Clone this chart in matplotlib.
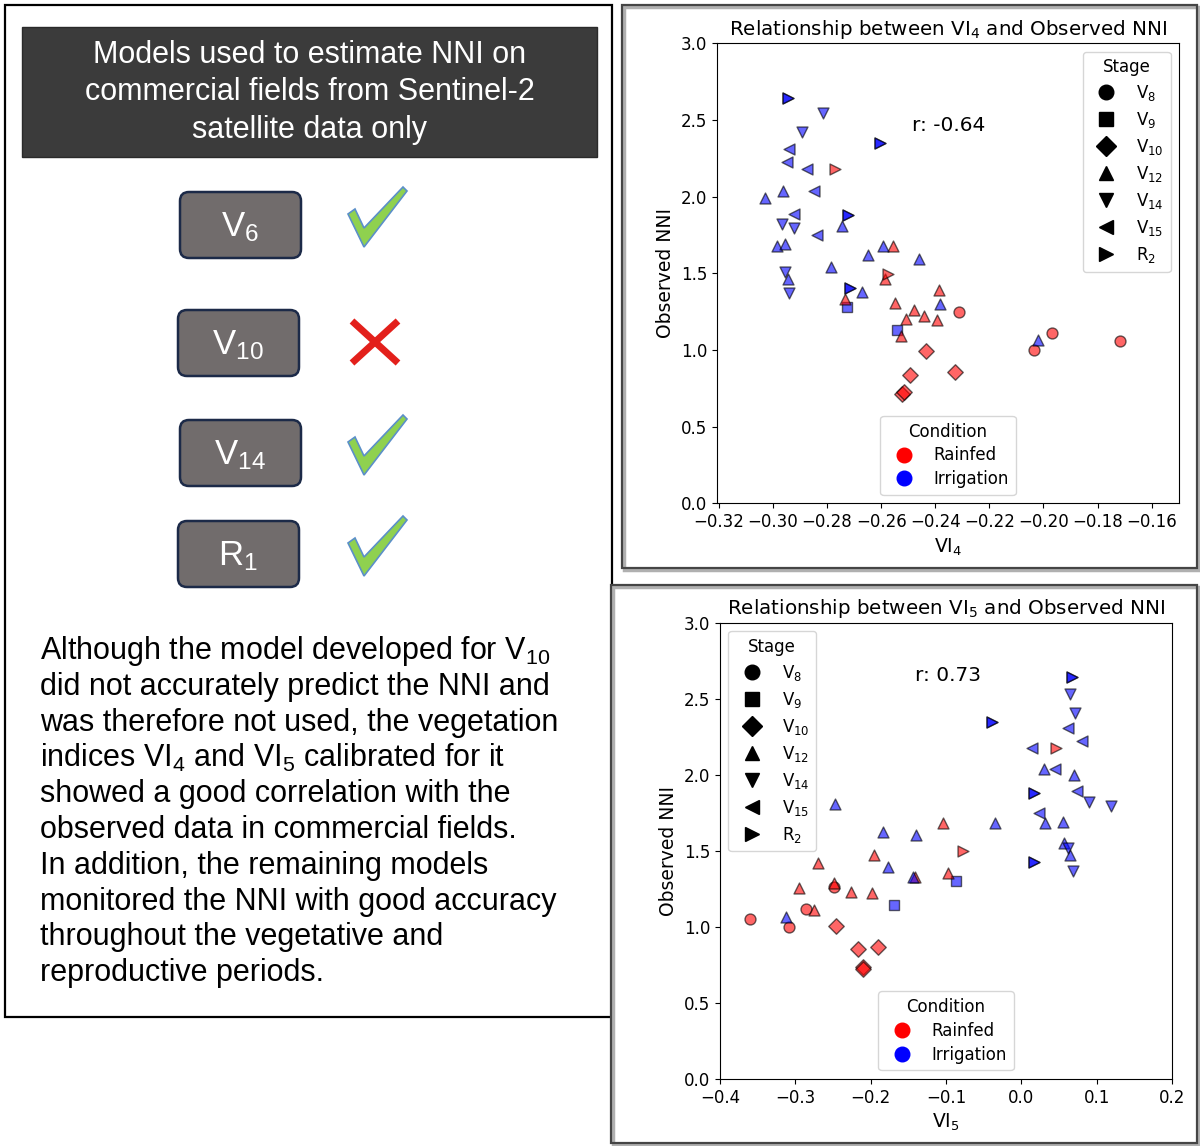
import matplotlib
matplotlib.use("Agg")
import matplotlib.pyplot as plt
from matplotlib.patches import Rectangle, FancyBboxPatch, Polygon
from matplotlib.lines import Line2D

plt.rcParams['mathtext.default'] = 'regular'
plt.rcParams['font.family'] = ['DejaVu Sans']

# ---------------- data ----------------
stage_names = ['V8', 'V9', 'V10', 'V12', 'V14', 'V15', 'R2']
stage_labels = ['V$_8$', 'V$_9$', 'V$_{10}$', 'V$_{12}$', 'V$_{14}$', 'V$_{15}$', 'R$_2$']
stage_markers = ['o', 's', 'D', '^', 'v', '<', '>']
cond_names = ['Rainfed', 'Irrigation']
cond_colors = ['red', 'blue']

# VI4 panel
vi4_x = [-0.2943, -0.2943, -0.2605, -0.2605, -0.2724, -0.2724, -0.2716, -0.2716,
         -0.2814, -0.2893, -0.2966, -0.2921, -0.2955, -0.2940,
         -0.2939, -0.2949, -0.2875, -0.2847, -0.2921, -0.2836,
         -0.2963, -0.3031, -0.2744, -0.2984, -0.2955, -0.2593, -0.2648, -0.2461,
         -0.2786, -0.2945, -0.2670, -0.2384, -0.2019,
         -0.2728, -0.2541,
         -0.2771, -0.2575,
         -0.2556, -0.2587, -0.2732, -0.2388, -0.2550, -0.2480, -0.2443, -0.2507,
         -0.2393, -0.2528,
         -0.2313, -0.1969, -0.2035, -0.1718,
         -0.2433, -0.2492, -0.2327, -0.2523, -0.2514]
vi4_nni = [2.642, 2.642, 2.348, 2.348, 1.880, 1.880, 1.405, 1.405,
           2.544, 2.420, 1.822, 1.798, 1.510, 1.370,
           2.309, 2.224, 2.178, 2.037, 1.887, 1.748,
           2.037, 1.993, 1.811, 1.680, 1.689, 1.680, 1.619, 1.593,
           1.543, 1.460, 1.377, 1.300, 1.066,
           1.278, 1.128,
           2.178, 1.493,
           1.680, 1.463, 1.333, 1.393, 1.305, 1.261, 1.224, 1.202,
           1.195, 1.089,
           1.246, 1.109, 1.001, 1.058,
           0.996, 0.835, 0.855, 0.714, 0.727]
vi4_stage = (['R2'] * 8 + ['V14'] * 6 + ['V15'] * 6 + ['V12'] * 13 + ['V9'] * 2 +
             ['R2'] * 2 + ['V12'] * 10 + ['V8'] * 4 + ['V10'] * 5)
vi4_cond = ['Irrigation'] * 35 + ['Rainfed'] * 21

# VI5 panel
vi5_x = [0.0673, 0.0673, -0.0392, -0.0392, 0.0174, 0.0174, 0.0174, 0.0174,
         0.0650, 0.0717, 0.0900, 0.1193, 0.0620, 0.0682,
         0.0620, 0.0806, 0.0142, 0.0452, 0.0737, 0.0240,
         -0.2473, -0.1840, -0.1397, -0.1774, -0.1441, -0.3124, 0.0296, 0.0695,
         0.0316, 0.0551, -0.0348, 0.0570, 0.0650,
         -0.0870, -0.1696,
         0.0465, -0.0769,
         -0.1043, -0.1950, -0.2703, -0.1411, -0.0968, -0.2951, -0.2482, -0.2260,
         -0.1977, -0.2758,
         -0.2482, -0.2855, -0.3602, -0.3084,
         -0.2464, -0.2172, -0.1898, -0.2107, -0.2103]
vi5_nni = [2.640, 2.640, 2.345, 2.345, 1.880, 1.880, 1.425, 1.425,
           2.530, 2.405, 1.818, 1.797, 1.515, 1.365,
           2.308, 2.220, 2.175, 2.038, 1.890, 1.750,
           1.810, 1.620, 1.600, 1.395, 1.325, 1.065, 2.038, 1.995,
           1.682, 1.690, 1.682, 1.550, 1.475,
           1.298, 1.143,
           2.175, 1.500,
           1.683, 1.472, 1.422, 1.330, 1.356, 1.253, 1.290, 1.230,
           1.222, 1.108,
           1.263, 1.118, 1.053, 0.998,
           1.006, 0.852, 0.870, 0.732, 0.724]
vi5_stage = vi4_stage
vi5_cond = vi4_cond

# left panel text
header_lines = ["Models used to estimate NNI on",
                "commercial fields from Sentinel-2",
                "satellite data only"]
model_labels = ['V$_6$', 'V$_{10}$', 'V$_{14}$', 'R$_1$']
model_ok = [True, False, True, True]
body_lines = ["Although the model developed for V$_{10}$",
              "did not accurately predict the NNI and",
              "was therefore not used, the vegetation",
              "indices VI$_4$ and VI$_5$ calibrated for it",
              "showed a good correlation with the",
              "observed data in commercial fields.",
              "In addition, the remaining models",
              "monitored the NNI with good accuracy",
              "throughout the vegetative and",
              "reproductive periods."]

# ---------------- figure ----------------
W, H = 1200, 1146
fig = plt.figure(figsize=(12, 11.46), dpi=100)
bg = fig.add_axes([0, 0, 1, 1])
bg.set_xlim(0, W)
bg.set_ylim(H, 0)
bg.axis('off')

LS = 'Liberation Sans'

# left outer frame
bg.add_patch(Rectangle((5, 5), 607, 1012, fill=False, ec='black', lw=1.6))
# header box
bg.add_patch(Rectangle((22, 27), 575, 130, fc='#3b3b3b', ec='#2a2a2a', lw=1))
for i, line in enumerate(header_lines):
    bg.text(310, 55 + i * 37.5, line, color='white', fontsize=22, family=LS,
            ha='center', va='center')

# model boxes
box_tops = [192, 310, 420, 521]
box_lefts = [180, 178, 180, 178]
for lab, top, left, ok in zip(model_labels, box_tops, box_lefts, model_ok):
    bg.add_patch(FancyBboxPatch((left, top), 121, 66,
                                boxstyle="round,pad=0,rounding_size=9",
                                fc='#716c6c', ec='#1c2a48', lw=1.8))
    bg.text(left + 60, top + 35, lab, color='white', fontsize=25, family=LS,
            ha='center', va='center')
    cy = top + 28
    if ok:
        pts = [(348, cy - 6), (355, cy - 11), (364, cy + 8), (403, cy - 33),
               (407, cy - 29), (364, cy + 27)]
        bg.add_patch(Polygon(pts, closed=True, fc='#8fd14f', ec='#5b8fc9', lw=1.2))
    else:
        cx, cyy = 375, 342
        for dx in (-1, 1):
            bg.plot([cx - 23, cx + 23], [cyy - 21 * dx, cyy + 21 * dx],
                    color='#e3201b', lw=5, solid_capstyle='butt')

for i, line in enumerate(body_lines):
    bg.text(40, 651 + i * 35.8, line, color='black', fontsize=22, family=LS,
            ha='left', va='center')

# right panel frames (screenshots)
for (x0, y0, w, h) in [(622, 5, 575, 563), (611, 585, 586, 558)]:
    bg.add_patch(Rectangle((x0 + 2, y0 + 2), w, h, fill=False, ec='#b0b0b0', lw=2.5))
    bg.add_patch(Rectangle((x0, y0), w, h, fill=False, ec='#454545', lw=1.6))


def scatter_panel(ax, xs, ys, stages, conds):
    for sname, m in zip(stage_names, stage_markers):
        for cname, col in zip(cond_names, cond_colors):
            px = [x for x, s, c in zip(xs, stages, conds) if s == sname and c == cname]
            py = [y for y, s, c in zip(ys, stages, conds) if s == sname and c == cname]
            if px:
                ax.scatter(px, py, marker=m, c=col, alpha=0.6, s=62,
                           edgecolors='black', linewidths=1.0, zorder=3)


def legends(ax, stage_loc, cond_loc):
    sh = [Line2D([], [], marker=m, color='black', linestyle='', markersize=10.5)
          for m in stage_markers]
    l1 = ax.legend(sh, stage_labels, title='Stage', loc=stage_loc, fontsize=12,
                   title_fontsize=12, labelspacing=0.42)
    ax.add_artist(l1)
    ch = [Line2D([], [], marker='o', color=c, linestyle='', markersize=10.5)
          for c in cond_colors]
    ax.legend(ch, cond_names, title='Condition', loc=cond_loc, fontsize=12,
              title_fontsize=12, labelspacing=0.35)


# top scatter (VI4)
ax1 = fig.add_axes([717 / W, 1 - 503.3 / H, 462 / W, 460 / H])
scatter_panel(ax1, vi4_x, vi4_nni, vi4_stage, vi4_cond)
ax1.set_xlim(-0.3207, -0.1499)
ax1.set_ylim(0, 3.0)
ax1.set_xticks([-0.32, -0.30, -0.28, -0.26, -0.24, -0.22, -0.20, -0.18, -0.16])
ax1.set_yticks([0, 0.5, 1.0, 1.5, 2.0, 2.5, 3.0])
ax1.tick_params(labelsize=12)
ax1.set_xlabel('VI$_4$', fontsize=13.5)
ax1.set_ylabel('Observed NNI', fontsize=13.5)
ax1.set_title('Relationship between VI$_4$ and Observed NNI', fontsize=14.3)
ax1.text(-0.2487, 2.467, 'r: -0.64', fontsize=14.5, ha='left', va='center')
legends(ax1, 'upper right', 'lower center')

# bottom scatter (VI5)
ax2 = fig.add_axes([720 / W, 1 - 1078.8 / H, 452 / W, 456.2 / H])
scatter_panel(ax2, vi5_x, vi5_nni, vi5_stage, vi5_cond)
ax2.set_xlim(-0.4, 0.2)
ax2.set_ylim(0, 3.0)
ax2.set_xticks([-0.4, -0.3, -0.2, -0.1, 0.0, 0.1, 0.2])
ax2.set_yticks([0, 0.5, 1.0, 1.5, 2.0, 2.5, 3.0])
ax2.tick_params(labelsize=12)
ax2.set_xlabel('VI$_5$', fontsize=13.5)
ax2.set_ylabel('Observed NNI', fontsize=13.5)
ax2.set_title('Relationship between VI$_5$ and Observed NNI', fontsize=14.3)
ax2.text(-0.141, 2.65, 'r: 0.73', fontsize=14.5, ha='left', va='center')
legends(ax2, 'upper left', 'lower center')

fig.savefig('out.png', dpi=100)
